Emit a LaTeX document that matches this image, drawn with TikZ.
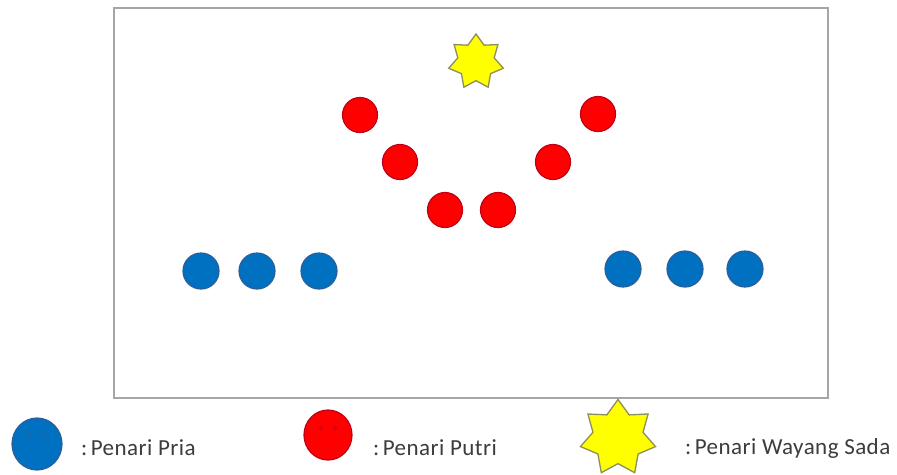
\documentclass[tikz,border=0pt]{standalone}
\usepackage{fontspec}
\setmainfont{Carlito}[LetterSpace=2]
\usetikzlibrary{shapes.geometric}
\definecolor{pblue}{HTML}{0070C0}
\definecolor{pblueline}{HTML}{2E5E9A}
\definecolor{pred}{HTML}{FF0000}
\definecolor{predline}{HTML}{C00018}
\definecolor{pyellow}{HTML}{FFFF00}
\definecolor{pyline}{HTML}{8E8E5A}
\definecolor{frame}{HTML}{A6A6A6}
\definecolor{txt}{HTML}{3C3C3C}
\tikzset{
  pria/.style={circle,fill=pblue,draw=pblueline,line width=1.2pt,minimum size=36pt,inner sep=0pt},
  putri/.style={circle,fill=pred,draw=predline,line width=1.2pt,minimum size=35pt,inner sep=0pt},
  wayang/.style={star,star points=7,star point ratio=1.5,fill=pyellow,draw=pyline,line width=1.3pt,inner sep=0pt},
  legtext/.style={anchor=west,text=txt,font=\fontsize{23}{27}\selectfont,inner sep=0pt},
  eye/.style={circle,inner sep=0pt,minimum size=4pt}
}
\begin{document}
\begin{tikzpicture}[x=1pt,y=-1pt]
\useasboundingbox (0,0) rectangle (897,474);
\fill[white] (0,0) rectangle (897,474);
% stage
\draw[frame,line width=1.6pt] (114,8) rectangle (828,398);
% wayang sada
\node[wayang,minimum size=56pt] (ws) at (476,62) {};
% penari putri
\node[putri] (r1) at (360,115) {};
\node[putri] (r2) at (400,162) {};
\node[putri] (r3) at (445,210) {};
\node[putri] (r4) at (498,210) {};
\node[putri] (r5) at (553,162) {};
\node[putri] (r6) at (598,114) {};
% penari pria
\node[pria] (b1) at (201,271) {};
\node[pria] (b2) at (257,271) {};
\node[pria] (b3) at (319,271) {};
\node[pria] (b4) at (623,269) {};
\node[pria] (b5) at (685,269) {};
\node[pria] (b6) at (745,269) {};
% legend
\node[ellipse,fill=pblue,draw=pblueline,line width=1.2pt,minimum width=50pt,minimum height=52pt,inner sep=0pt] (lb) at (37,444) {};
\node[eye,fill=pblueline!60!pblue] (lbe1) at (30,436) {};
\node[eye,fill=pblueline!60!pblue] (lbe2) at (44,436) {};
\node[legtext] (tb) at (81,448) {:\hspace{0.15em}Penari Pria};
\node[ellipse,fill=pred,draw=predline,line width=1.2pt,minimum width=48pt,minimum height=50pt,inner sep=0pt] (lr) at (328,435) {};
\node[eye,fill=predline!70!pred] (lre1) at (321,428) {};
\node[eye,fill=predline!70!pred] (lre2) at (335,428) {};
\node[legtext] (tr) at (373,448) {:\hspace{0.15em}Penari Putri};
\node[wayang,minimum size=77pt] (lw) at (618,438) {};
\node[legtext] (tw) at (685,448) {:\hspace{0.15em}Penari Wayang Sada};
\end{tikzpicture}
\end{document}
